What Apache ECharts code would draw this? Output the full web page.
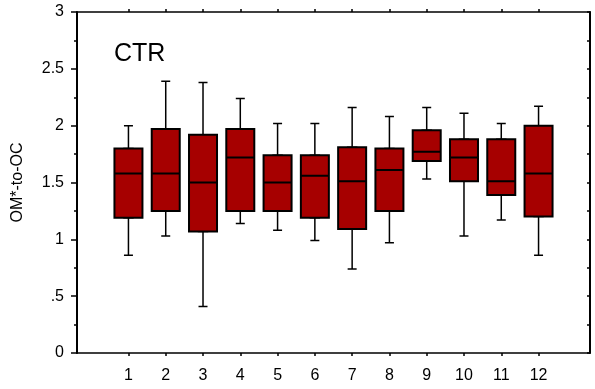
<!DOCTYPE html>
<html>
<head>
<meta charset="utf-8">
<script src="https://cdn.jsdelivr.net/npm/echarts@6/dist/echarts.min.js"></script>
<style>html,body{margin:0;padding:0;background:#fff}#c{width:595px;height:389px}</style>
</head>
<body>
<div id="c"></div>
<script>
var categories = [1, 2, 3, 4, 5, 6, 7, 8, 9, 10, 11, 12];
var whiskerMin = [0.86, 1.03, 0.41, 1.14, 1.08, 0.99, 0.74, 0.97, 1.53, 1.03, 1.17, 0.86];
var q1 =         [1.19, 1.25, 1.07, 1.25, 1.25, 1.19, 1.09, 1.25, 1.69, 1.51, 1.39, 1.20];
var median =     [1.58, 1.58, 1.50, 1.72, 1.50, 1.56, 1.51, 1.61, 1.77, 1.72, 1.51, 1.58];
var q3 =         [1.80, 1.97, 1.92, 1.97, 1.74, 1.74, 1.81, 1.80, 1.96, 1.88, 1.88, 2.00];
var whiskerMax = [2.00, 2.39, 2.38, 2.24, 2.02, 2.02, 2.16, 2.08, 2.16, 2.11, 2.02, 2.17];
var yTicks = [0, 0.5, 1, 1.5, 2, 2.5, 3];
var yTickLabels = ['0', '.5', '1', '1.5', '2', '2.5', '3'];
var panelLabel = 'CTR';
var yTitle = 'OM*-to-OC';

var FONT = 'Liberation Sans, Arial, sans-serif';
var whiskerData = categories.map(function (c, i) {
  return [c, whiskerMin[i], q1[i], median[i], q3[i], whiskerMax[i]];
});
var boxData = categories.map(function (c, i) {
  return [c, q1[i], q1[i], median[i], q3[i], q3[i]];
});

var chart = echarts.init(document.getElementById('c'), null, {renderer: 'canvas'});
var lineStyle = {color: '#000', width: 1.5};
chart.setOption({
  animation: false,
  backgroundColor: '#fff',
  title: {
    text: panelLabel, left: 109, top: 37,
    textStyle: {fontFamily: FONT, fontSize: 25, fontWeight: 'normal', color: '#000'}
  },
  grid: {left: 77, right: 5, top: 12, bottom: 36, containLabel: false},
  xAxis: [{
    type: 'value', min: -0.38, max: 13.38, position: 'bottom',
    axisLine: {show: true, onZero: false, lineStyle: lineStyle},
    axisTick: {show: true, inside: false, length: 3, lineStyle: lineStyle, customValues: categories},
    axisLabel: {show: true, customValues: categories, margin: 15, fontFamily: FONT, fontSize: 16, color: '#000'},
    splitLine: {show: false}
  }, {
    type: 'value', min: -0.38, max: 13.38, position: 'top',
    axisLine: {show: true, onZero: false, lineStyle: lineStyle},
    axisTick: {show: true, inside: false, length: 3, lineStyle: lineStyle, customValues: categories},
    axisLabel: {show: false},
    splitLine: {show: false}
  }],
  yAxis: [{
    type: 'value', min: 0, max: 3, interval: 0.5, position: 'left',
    name: yTitle, nameLocation: 'middle', nameRotate: 90, nameGap: 51,
    nameTextStyle: {fontFamily: FONT, fontSize: 16, color: '#000'},
    axisLine: {show: true, onZero: false, lineStyle: {color: '#000', width: 2}},
    axisTick: {show: true, inside: false, length: 6, lineStyle: lineStyle},
    minorTick: {show: true, splitNumber: 2, length: 3, lineStyle: lineStyle},
    axisLabel: {
      margin: 13, fontFamily: FONT, fontSize: 16, color: '#000',
      formatter: function (v) {
        var idx = yTicks.indexOf(v);
        return idx >= 0 ? yTickLabels[idx] : '';
      }
    },
    splitLine: {show: false}
  }, {
    type: 'value', min: 0, max: 3, interval: 0.25, position: 'right',
    axisLine: {show: true, onZero: false, lineStyle: {color: '#000', width: 2}},
    axisTick: {show: true, inside: true, length: 3, lineStyle: lineStyle},
    axisLabel: {show: false},
    splitLine: {show: false}
  }],
  series: [{
    type: 'boxplot', xAxisIndex: 0, yAxisIndex: 0,
    data: whiskerData, boxWidth: [9, 9], z: 2,
    itemStyle: {color: '#A60000', borderColor: '#000', borderWidth: 1.5}
  }, {
    type: 'boxplot', xAxisIndex: 1, yAxisIndex: 0,
    data: boxData, boxWidth: [28, 28], z: 3,
    itemStyle: {color: '#A60000', borderColor: '#000', borderWidth: 2}
  }]
});
</script>
</body>
</html>
